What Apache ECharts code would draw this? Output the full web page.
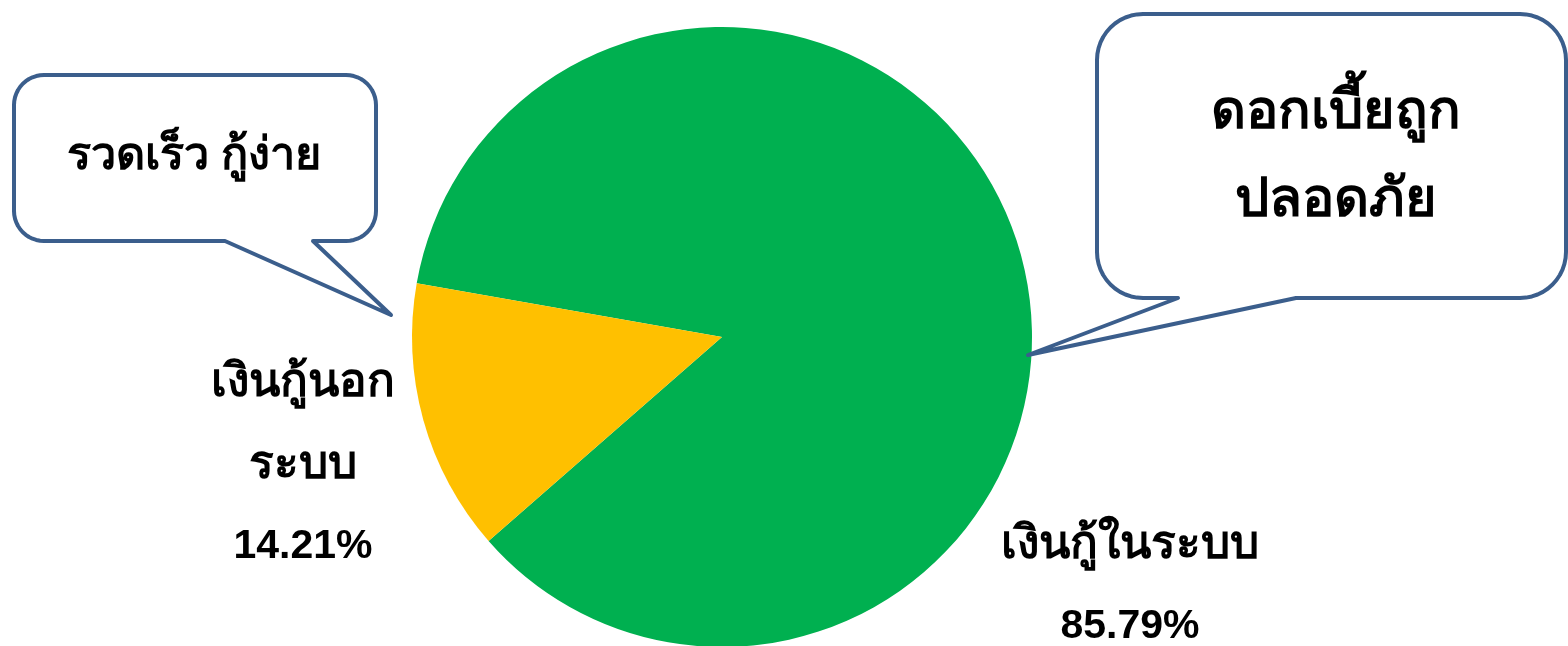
<!DOCTYPE html>
<html>
<head>
<meta charset="utf-8">
<script src="https://cdn.jsdelivr.net/npm/echarts@6/dist/echarts.min.js"></script>
<style>
html,body{margin:0;padding:0;background:#fff;}
#chart{width:1568px;height:646px;}
</style>
</head>
<body>
<div id="chart"></div>
<script>
// ---- data ----
const categories = ['เงินกู้ในระบบ', 'เงินกู้นอก\nระบบ'];
const values = [85.79, 14.21];
const colors = ['#00B050', '#FFC000'];
const calloutLeft = 'รวดเร็ว กู้ง่าย';
const calloutRight = 'ดอกเบี้ยถูก\nปลอดภัย';

const FONT = '"Liberation Sans", "Noto Sans", "DejaVu Sans", sans-serif';
const BORDER = '#3B5E8C';

function arcPts(cx, cy, r, a0, a1) {
  const pts = [];
  const n = 12;
  for (let i = 0; i <= n; i++) {
    const a = (a0 + (a1 - a0) * i / n) * Math.PI / 180;
    pts.push([cx + r * Math.cos(a), cy + r * Math.sin(a)]);
  }
  return pts;
}
function bubblePoints(x1, y1, x2, y2, r, tA, tip, tB) {
  let pts = [];
  pts = pts.concat(arcPts(x1 + r, y1 + r, r, 180, 270));
  pts = pts.concat(arcPts(x2 - r, y1 + r, r, 270, 360));
  pts = pts.concat(arcPts(x2 - r, y2 - r, r, 0, 90));
  pts.push([tB, y2], tip, [tA, y2]);
  pts = pts.concat(arcPts(x1 + r, y2 - r, r, 90, 180));
  return pts;
}

const chart = echarts.init(document.getElementById('chart'), null, {renderer: 'canvas'});
chart.setOption({
  backgroundColor: '#ffffff',
  animation: false,
  series: [{
    type: 'pie',
    center: [722, 337],
    radius: 310,
    startAngle: 170,
    clockwise: true,
    silent: true,
    data: categories.map((c, i) => ({name: c, value: values[i], itemStyle: {color: colors[i]}})),
    itemStyle: {borderWidth: 0},
    labelLine: {show: false},
    label: {
      show: true,
      position: 'outside',
      formatter: p => p.name.split('\n').map(s => '{t|' + s + '}').join('\n') +
        '\n{p|' + p.value.toFixed(2) + '%}',
      color: '#000',
      align: 'center',
      lineHeight: 82,
      rich: {
        t: {fontFamily: FONT, fontWeight: 'bold', fontSize: 46, lineHeight: 82, color: '#000'},
        p: {fontFamily: FONT, fontWeight: 'bold', fontSize: 41, lineHeight: 82, color: '#000'}
      }
    },
    labelLayout: function (params) {
      if (params.dataIndex === 0) {
        return {x: 1130, y: 586, align: 'center', verticalAlign: 'middle'};
      }
      return {x: 303, y: 465, align: 'center', verticalAlign: 'middle'};
    }
  }],
  graphic: [
    {
      type: 'polygon', z: 10,
      shape: {points: bubblePoints(14, 75, 376, 241, 30, 225, [391, 315], 313)},
      style: {fill: '#fff', stroke: BORDER, lineWidth: 4, lineJoin: 'round'}
    },
    {
      type: 'text', z: 11, x: 194, y: 157,
      style: {text: calloutLeft, font: 'bold 45px ' + FONT, fill: '#000', align: 'center', verticalAlign: 'middle'}
    },
    {
      type: 'polygon', z: 10,
      shape: {points: bubblePoints(1097, 14, 1566, 298, 46, 1178, [1028, 355], 1296)},
      style: {fill: '#fff', stroke: BORDER, lineWidth: 4, lineJoin: 'round'}
    },
    {
      type: 'text', z: 11, x: 1336, y: 157,
      style: {text: calloutRight, font: 'bold 54px ' + FONT, lineHeight: 88, fill: '#000', align: 'center', verticalAlign: 'middle'}
    }
  ]
});
</script>
</body>
</html>
